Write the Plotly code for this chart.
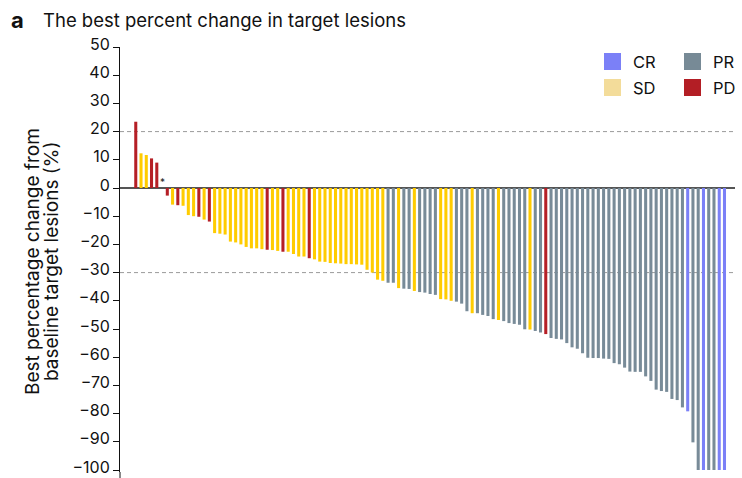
import plotly.graph_objects as go

# ---- data ----
best_change = [23.5, 12.3, 11.7, 10.5, 9.0, 0.0, -2.7, -5.9, -6.1, -6.3,
               -9.6, -10.0, -10.2, -11.2, -11.9, -16.0, -16.2, -16.5, -19.0, -19.3,
               -20.0, -20.9, -21.4, -21.4, -21.7, -21.9, -22.0, -22.3, -22.6, -22.6,
               -23.4, -24.3, -24.3, -24.9, -25.3, -26.1, -26.2, -26.6, -26.7, -26.8,
               -27.0, -27.0, -27.1, -27.2, -29.0, -30.0, -32.5, -32.9, -33.6, -33.6,
               -35.5, -35.7, -35.8, -36.5, -36.9, -37.1, -37.6, -37.9, -39.4, -39.5,
               -40.0, -40.3, -41.0, -43.7, -44.4, -44.4, -45.0, -45.4, -46.5, -46.8,
               -47.2, -47.9, -48.2, -48.5, -50.1, -50.2, -50.7, -51.2, -51.8, -53.2,
               -53.5, -53.7, -55.0, -56.5, -57.0, -58.6, -60.2, -60.3, -60.3, -60.5,
               -60.6, -62.1, -62.5, -63.7, -65.1, -65.2, -65.2, -66.8, -68.4, -71.5,
               -72.0, -72.3, -74.8, -75.2, -77.8, -79.2, -90.2, -100, -100, -100,
               -100, -100, -100]

response = (["PD", "SD", "SD", "PD", "PD", "SD", "PD", "SD", "PD", "SD"] +
            ["SD", "SD", "PD", "SD", "PD", "SD", "SD", "SD", "SD", "SD"] +
            ["SD", "SD", "SD", "SD", "SD", "PD", "SD", "SD", "PD", "SD"] +
            ["SD", "SD", "SD", "PD", "SD", "SD", "SD", "SD", "SD", "SD"] +
            ["SD", "SD", "SD", "SD", "SD", "SD", "SD", "SD", "PR", "PR"] +
            ["SD", "PR", "PR", "SD", "PR", "PR", "PR", "PR", "SD", "SD"] +
            ["SD", "PR", "PR", "PR", "SD", "PR", "PR", "PR", "PR", "SD"] +
            ["PR", "PR", "PR", "PR", "PR", "SD", "PR", "PR", "PD", "PR"] +
            ["PR"] * 25 +
            ["CR", "PR", "PR", "CR", "PR", "PR", "CR", "CR"])

asterisk_patient = 5
ref_lines = [20, -30]
y_ticks = list(range(-100, 51, 10))
y_title_lines = ["Best percentage change from", "baseline target lesions (%)"]

bar_colors = {"CR": "#7B80F7", "PR": "#788B98", "SD": "#FFCC00", "PD": "#B51F26"}
legend_colors = {"CR": "#7B80F7", "PR": "#778A96", "SD": "#F3DC9A", "PD": "#B31E25"}
legend_order = [["CR", "PR"], ["SD", "PD"]]

# ---- layout geometry (pixels) ----
W, H = 742, 478
L, R, T, B = 120, 7, 47, 6
pw, ph = W - L - R, H - T - B
y_top = 50
y_bottom = -100 - (ph - 150 * (423 / 150)) / (423 / 150)


def px_x(x):
    return (x - L) / pw


def px_y(y):
    return 1 - (y - T) / ph


patients = list(range(len(best_change)))
fig = go.Figure()
fig.add_trace(go.Bar(
    x=patients, y=best_change,
    marker=dict(color=[bar_colors[r] for r in response], line=dict(width=0)),
    showlegend=False, hoverinfo="y",
))

shapes = []
for v in ref_lines:
    shapes.append(dict(type="line", xref="paper", yref="y", x0=0, x1=1, y0=v, y1=v,
                       line=dict(color="#9a9a9a", width=1, dash="4px,3px"), layer="below"))
# axis line continues to the bottom edge
shapes.append(dict(type="line", xref="paper", yref="paper", x0=0, x1=0,
                   y0=px_y(478), y1=0, line=dict(color="#111", width=1)))

annotations = [
    dict(text="<b>a</b>", x=px_x(9), y=px_y(20), xref="paper", yref="paper",
         xanchor="left", yanchor="middle", showarrow=False,
         font=dict(size=22, color="#111", family="Inter")),
    dict(text="The best percent change in target lesions", x=px_x(41), y=px_y(20),
         xref="paper", yref="paper", xanchor="left", yanchor="middle", showarrow=False,
         font=dict(size=18.5, color="#111", family="Inter")),
    dict(text="*", x=asterisk_patient, y=0, xref="x", yref="y", xanchor="center",
         yanchor="bottom", yshift=-2, showarrow=False, font=dict(size=10, color="#222")),
]
for i, line in enumerate(y_title_lines):
    annotations.append(dict(text=line, x=px_x(32 + i * 19), y=px_y(262), xref="paper",
                            yref="paper", xanchor="center", yanchor="middle", textangle=-90,
                            showarrow=False, font=dict(size=19, color="#111", family="Inter")))

for row, names in enumerate(legend_order):
    for col, name in enumerate(names):
        sx = 604 + col * 80
        sy = 53 + row * 26
        shapes.append(dict(type="rect", xref="paper", yref="paper",
                           x0=px_x(sx), x1=px_x(sx + 17), y0=px_y(sy), y1=px_y(sy + 17),
                           fillcolor=legend_colors[name], line=dict(width=0)))
        annotations.append(dict(text=name, x=px_x(sx + 27), y=px_y(sy + 8.5),
                                xref="paper", yref="paper", xanchor="left", yanchor="middle",
                                showarrow=False, font=dict(size=16.5, color="#111", family="Inter")))

fig.update_layout(
    width=W, height=H,
    margin=dict(l=L, r=R, t=T, b=B, pad=0, autoexpand=False),
    paper_bgcolor="white", plot_bgcolor="white",
    bargap=0.42,
    shapes=shapes, annotations=annotations,
    font=dict(family="Inter", color="#111", size=16),
    xaxis=dict(range=[-3, 114], showticklabels=False, showgrid=False, zeroline=False,
               showline=False, ticks="", automargin=False),
    yaxis=dict(range=[y_bottom, y_top], tickvals=y_ticks, showgrid=False,
               zeroline=True, zerolinecolor="#555555", zerolinewidth=1.5,
               showline=True, linecolor="#111", linewidth=1,
               ticks="outside", ticklen=6, tickcolor="#111",
               ticklabeloverflow="allow", automargin=False, ticklabelshift=-3,
               tickfont=dict(size=16, color="#111", family="Inter")),
)

fig.write_html("out.html")
